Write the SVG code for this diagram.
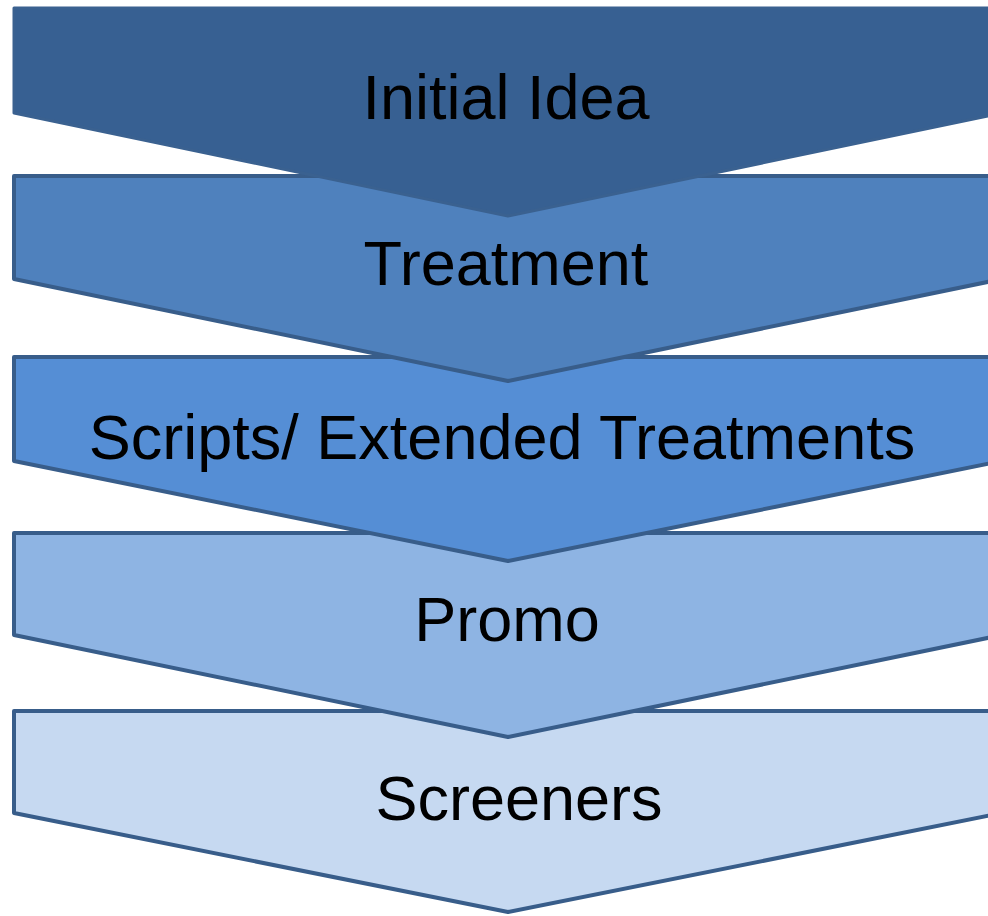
<svg xmlns="http://www.w3.org/2000/svg" width="988" height="916" viewBox="0 0 988 916">
<style>
.s{stroke:#385d8a;stroke-width:4;stroke-linejoin:round}
.t{font-family:"Liberation Sans",Arial,sans-serif;font-size:63px;fill:#000;text-anchor:middle}
</style>
<rect width="988" height="916" fill="#fff"/>
<g id="connectors"></g>
<g id="n5">
<polygon class="s" fill="#c6d9f1" points="14,711 1002,711 1002,813 508,912 14,813"/>
<text class="t" x="519" y="820">Screeners</text>
</g>
<g id="n4">
<polygon class="s" fill="#8eb4e3" points="14,533 1002,533 1002,635 508,737 14,635"/>
<text class="t" x="507" y="641">Promo</text>
</g>
<g id="n3">
<polygon class="s" fill="#558ed5" points="14,357 1002,357 1002,461 508,561 14,461"/>
<text class="t" x="502" y="459">Scripts/ Extended Treatments</text>
</g>
<g id="n2">
<polygon class="s" fill="#4f81bd" points="14,176 1002,176 1002,279 508,381 14,279"/>
<text class="t" x="506" y="285">Treatment</text>
</g>
<g id="n1">
<polygon fill="#376092" stroke="#3a6190" stroke-width="3" stroke-linejoin="round" points="14,8 1002,8 1002,113 508,216 14,113"/>
<text class="t" x="506" y="119">Initial Idea</text>
</g>
</svg>
